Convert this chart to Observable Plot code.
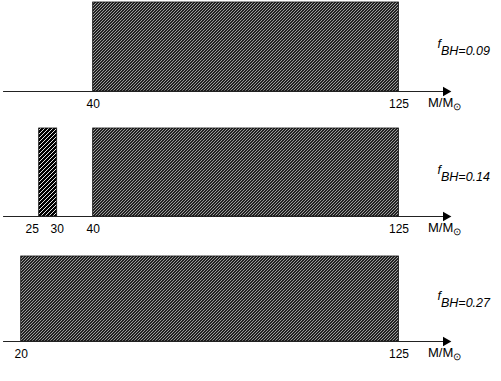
<!DOCTYPE html>
<html>
<head>
<meta charset="utf-8">
<script src="https://cdn.jsdelivr.net/npm/d3@7"></script>
<script src="https://cdn.jsdelivr.net/npm/@observablehq/plot@0.6"></script>
<style>
  html, body { margin: 0; padding: 0; background: #fff; }
  #chart { width: 501px; height: 381px; overflow: hidden; font-family: "Liberation Sans", Arial, sans-serif; }
  #chart svg { display: block; }
</style>
</head>
<body>
<svg width="0" height="0" style="position:absolute">
  <defs>
    <pattern id="hatchFine" patternUnits="userSpaceOnUse" width="3" height="3">
      <rect width="3" height="3" fill="#222"></rect>
      <path d="M-1,1 L1,-1 M0,3 L3,0 M2,4 L4,2" stroke="#9c9c9c" stroke-width="1"></path>
    </pattern>
    <pattern id="hatchCoarse" patternUnits="userSpaceOnUse" width="4" height="4">
      <rect width="4" height="4" fill="#000"></rect>
      <path d="M-1,1 L1,-1 M0,4 L4,0 M3,5 L5,3" stroke="#fff" stroke-width="0.9"></path>
    </pattern>
  </defs>
</svg>
<div id="chart"></div>
<script>
// ---- data ----
const fBH = ["0.09", "0.14", "0.27"];
const barPanel = [0, 1, 1, 2];
const barStart = [40, 25, 40, 20];
const barEnd = [125, 30, 125, 125];
const barHatch = ["hatchFine", "hatchCoarse", "hatchFine", "hatchFine"];
const tickLabels = [[40, 125], [25, 30, 40, 125], [20, 125]];
const shiftedTick = 25;          // label drawn left of its bar in the original
const axisExtent = [15.1, 138.0]; // mass range covered by each arrow axis
const xLabel = "M/M⊙";

// ---- build ----
const chart = document.getElementById("chart");
const panelTop = [2, 3, 6];

fBH.forEach((f, i) => {
  const bars = barPanel.map((p, j) => ({p, x1: barStart[j], x2: barEnd[j], h: barHatch[j]})).filter(d => d.p === i);
  const ticks = tickLabels[i];
  const plot = Plot.plot({
    width: 501,
    height: 125,
    marginLeft: 20.7,
    marginRight: 102.5,
    marginTop: panelTop[i],
    marginBottom: 34,
    x: {domain: [20, 125], axis: null},
    y: {domain: [0, 1], axis: null},
    style: {fontFamily: "'Liberation Sans', Arial, sans-serif", background: "transparent", overflow: "visible"},
    marks: [
      Plot.rect(bars, {x1: "x1", x2: "x2", y1: 0, y2: 1, fill: d => `url(#${d.h})`, stroke: "#111", strokeWidth: 0.8}),
      Plot.ruleY([0], {x1: axisExtent[0], x2: axisExtent[1], stroke: "#222", strokeWidth: 1}),
      Plot.dot([axisExtent[1]], {x: d => d, y: 0, symbol: "triangle", r: 3.6, fill: "#000", stroke: null, rotate: 90}),
      Plot.text(ticks.filter(t => t !== shiftedTick), {x: d => d, y: 0, text: d => String(d), dy: 13, fontSize: 12, fill: "#000"}),
      Plot.text(ticks.filter(t => t === shiftedTick), {x: d => d, y: 0, text: d => String(d), dy: 13, dx: -7, fontSize: 12, fill: "#000"}),
      Plot.text([xLabel], {frameAnchor: "bottom-right", textAnchor: "start", dx: 29, dy: 15, fontSize: 13, fill: "#000", text: d => d}),
      Plot.text([f], {frameAnchor: "right", textAnchor: "start", dx: 38.5, dy: -3, fontSize: 12.5, fontStyle: "italic", fill: "#000", text: d => "f|BH=" + d})
    ]
  });
  // typographic touches: subscripts
  d3.select(plot).selectAll("text").each(function () {
    const t = this.textContent;
    if (t.startsWith("f|")) {
      const rest = t.slice(2);
      this.textContent = "";
      d3.select(this).append("tspan").text("f");
      d3.select(this).append("tspan").attr("dy", 7).text(rest);
    } else if (t === xLabel) {
      this.textContent = "";
      d3.select(this).append("tspan").text("M/M");
      d3.select(this).append("tspan").attr("dy", 3).attr("font-size", 10).text("⊙");
    }
  });
  chart.appendChild(plot);
});
</script>
</body>
</html>
